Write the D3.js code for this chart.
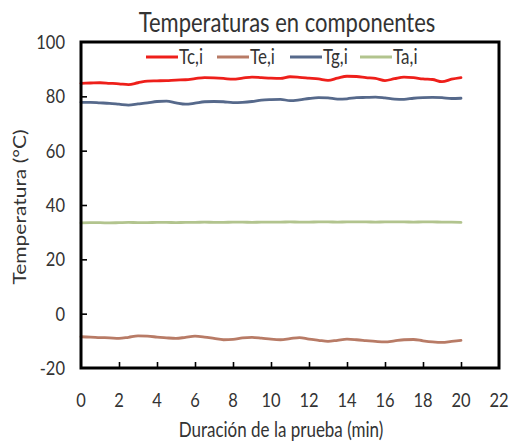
<!DOCTYPE html>
<html>
<head>
<meta charset="utf-8">
<script src="https://cdn.jsdelivr.net/npm/d3@7/dist/d3.min.js"></script>
<style>
  html, body { margin: 0; padding: 0; background: #fff; }
  svg { display: block; }
  text { font-family: Lato, "Open Sans", sans-serif; fill: #333; }
</style>
</head>
<body>
<svg id="chart" width="509" height="443"></svg>
<script>
// Time axis (min), one reading every 0.5 min
const minutes = d3.range(0, 20.01, 0.5);

// Component temperatures (°C)
const tc = [84.8, 84.9, 85.0, 84.8, 84.6, 84.3, 85.0, 85.6, 85.7, 85.8, 86.0, 86.1, 86.5, 86.9, 86.8, 86.6, 86.3, 86.7, 87.1, 86.9, 86.7, 86.6, 87.2, 87.0, 86.7, 86.4, 85.9, 86.7, 87.4, 87.3, 86.9, 86.6, 85.8, 86.5, 87.1, 86.9, 86.4, 86.2, 85.4, 86.3, 86.9];
const te = [-8.5, -8.6, -8.8, -8.9, -9.1, -8.7, -8.2, -8.3, -8.6, -8.9, -9.1, -8.7, -8.3, -8.6, -9.1, -9.6, -9.5, -8.9, -8.7, -9.0, -9.4, -9.6, -9.2, -8.8, -9.4, -9.8, -10.2, -9.8, -9.4, -9.6, -9.9, -10.2, -10.4, -10.0, -9.6, -9.5, -10.0, -10.4, -10.6, -10.2, -9.8];
const tg = [77.8, 77.8, 77.6, 77.4, 77.1, 76.8, 77.2, 77.6, 78.1, 78.2, 77.6, 77.1, 77.5, 78.0, 78.1, 78.0, 77.7, 77.8, 78.1, 78.6, 78.8, 78.9, 78.4, 78.7, 79.2, 79.5, 79.4, 79.0, 79.1, 79.5, 79.6, 79.7, 79.4, 79.0, 78.9, 79.3, 79.5, 79.6, 79.5, 79.2, 79.3];
const ta = [33.4, 33.5, 33.5, 33.4, 33.5, 33.6, 33.5, 33.5, 33.6, 33.6, 33.5, 33.6, 33.6, 33.7, 33.6, 33.6, 33.7, 33.7, 33.6, 33.7, 33.7, 33.7, 33.8, 33.7, 33.7, 33.8, 33.8, 33.7, 33.8, 33.8, 33.8, 33.7, 33.8, 33.8, 33.8, 33.7, 33.8, 33.8, 33.7, 33.7, 33.6];

const seriesNames = ["Tc,i", "Te,i", "Tg,i", "Ta,i"];
const seriesColors = ["#ee1f1a", "#b87b66", "#56698b", "#b2c48e"];
const seriesValues = [tc, te, tg, ta];

const xTicks = d3.range(0, 23, 2);
const yTicks = d3.range(-20, 101, 20);

const title = "Temperaturas en componentes";
const xTitle = "Duración de la prueba (min)";
const yTitle = "Temperatura (°C)";

const svg = d3.select("#chart");
const plot = { left: 81, right: 499, top: 42, bottom: 368 };
const stretch = 1.2; // glyphs are drawn slightly taller than wide on screen

const x = d3.scaleLinear().domain([0, 22]).range([plot.left, plot.right]);
const y = d3.scaleLinear().domain([-20, 100]).range([plot.bottom, plot.top]);

// Places a text label at (px, py), centred on py; the screen-vertical
// stretch runs along the baseline when the label is rotated
function label(parent, px, py, str, size, anchor, rotate) {
  const t = rotate
    ? `translate(${px},${py}) rotate(-90) scale(${stretch},1)`
    : `translate(${px},${py}) scale(1,${stretch})`;
  return parent.append("g").attr("transform", t)
    .append("text")
    .attr("dy", "0.36em")
    .attr("text-anchor", anchor)
    .attr("font-size", size)
    .text(str);
}

// Series lines
const line = d3.line()
  .x((d, i) => x(minutes[i]))
  .y(d => y(d))
  .curve(d3.curveMonotoneX);

seriesValues.forEach((vals, k) => {
  svg.append("path")
    .datum(vals)
    .attr("d", line)
    .attr("fill", "none")
    .attr("stroke", seriesColors[k])
    .attr("stroke-width", 2.8)
    .attr("stroke-linejoin", "round")
    .attr("stroke-linecap", "round");
});

// Inward ticks on left and bottom
const yAxis = d3.axisRight(y).tickValues(yTicks.slice(1, -1)).tickSize(6).tickFormat("");
svg.append("g")
  .attr("transform", `translate(${plot.left},0)`)
  .call(yAxis)
  .call(g => g.select(".domain").remove())
  .selectAll("line").attr("stroke", "#000").attr("stroke-width", 1.6);

const xAxis = d3.axisTop(x).tickValues(xTicks.slice(1, -1)).tickSize(6).tickFormat("");
svg.append("g")
  .attr("transform", `translate(0,${plot.bottom})`)
  .call(xAxis)
  .call(g => g.select(".domain").remove())
  .selectAll("line").attr("stroke", "#000").attr("stroke-width", 1.6);

// Plot frame
svg.append("rect")
  .attr("x", plot.left).attr("y", plot.top)
  .attr("width", plot.right - plot.left)
  .attr("height", plot.bottom - plot.top)
  .attr("fill", "none")
  .attr("stroke", "#000")
  .attr("stroke-width", 3);

// Tick labels
const yLabels = svg.append("g");
yTicks.forEach(d => label(yLabels, plot.left - 16, y(d), d, 16.5, "end"));

const xLabels = svg.append("g");
xTicks.forEach(d => label(xLabels, x(d), 400, d, 16.5, "middle"));

// Titles
label(svg, 287, 22, title, 22, "middle");
label(svg, 281, 430, xTitle, 17, "middle");
label(svg, 20, 207, yTitle, 17.5, "middle", true).attr("fill", "#444");

// Legend
const legendX = [146, 217, 290, 360];
seriesNames.forEach((name, k) => {
  const g = svg.append("g").attr("transform", `translate(${legendX[k]},57)`);
  g.append("line")
    .attr("x1", 0).attr("x2", 32)
    .attr("stroke", seriesColors[k])
    .attr("stroke-width", 3);
  label(g, 33, 0, name, 17, "start");
});
</script>
</body>
</html>
